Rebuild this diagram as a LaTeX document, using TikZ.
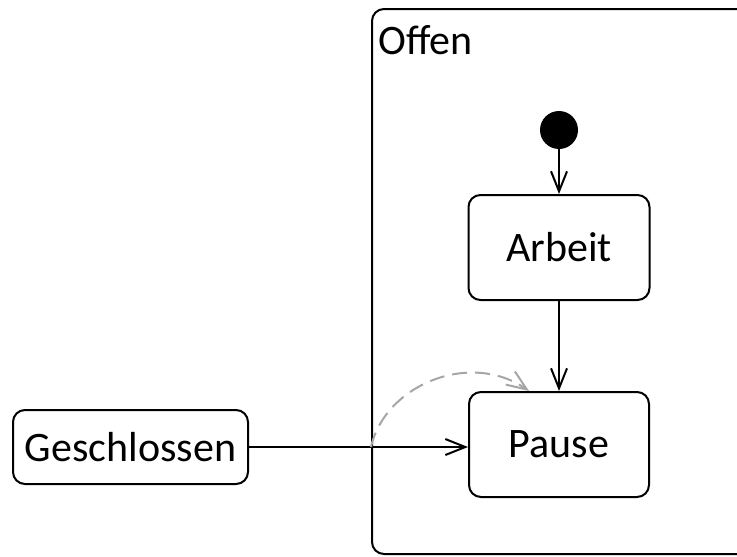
\documentclass[tikz,border=0pt]{standalone}
\usepackage{fontspec}
\setmainfont{Carlito}
\usepackage{xcolor}
\usetikzlibrary{arrows.meta}
\definecolor{uebergang}{HTML}{A6A6A6}

\begin{document}
\begin{tikzpicture}[x=1pt, y=-1pt,
    zustand/.style={draw, line width=2pt, rounded corners=12pt, font=\fontsize{42}{50}\selectfont},
    pfeil/.style={line width=2pt, -{Straight Barb[length=20pt, width=16pt, line width=2pt]}}]
    % Frame
    \clip (0,0) rectangle (737,557);

    % Outer state
    \node[draw, line width=2pt, rounded corners=12pt, anchor=north west,
          minimum width=420, minimum height=545, inner sep=0pt] (offen) at (371,8) {};
    \node[anchor=north west, inner sep=0pt, font=\fontsize{42}{50}\selectfont] (offentext) at (378,25) {Offen};

    % Initial state
    \node[circle, fill=black, minimum size=38, inner sep=0pt] (start) at (559,130) {};

    % States
    \node[zustand, minimum width=181, minimum height=105] (arbeit) at (559,247.5) {Arbeit};
    \node[zustand, minimum width=180, minimum height=105] (pause) at (559,444.5) {Pause};
    \node[zustand, minimum width=235, minimum height=74] (geschlossen) at (130.5,447) {Geschlossen};

    % Transitions
    \draw[pfeil] (start) -- (arbeit);
    \draw[pfeil] (arbeit) -- (pause);
    \draw[pfeil] (geschlossen.east) -- (geschlossen.east -| pause.west);

    % Entry into Offen (history)
    \coordinate (eintritt) at (geschlossen.east -| offen.west);
    \draw[pfeil, uebergang, dash pattern=on 15pt off 8pt]
        (eintritt) .. controls (385,385) and (470,350) .. ([xshift=-30pt]pause.north);
\end{tikzpicture}
\end{document}
